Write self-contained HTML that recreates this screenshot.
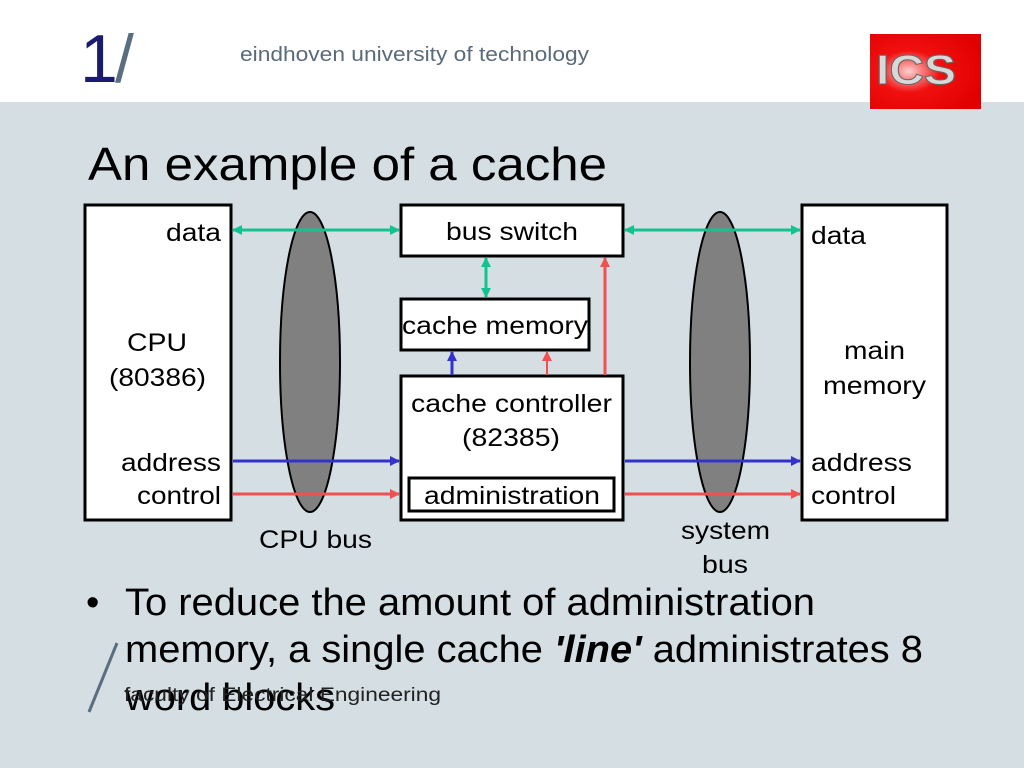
<!DOCTYPE html>
<html><head><meta charset="utf-8"><style>
body{margin:0;width:1024px;height:768px;overflow:hidden;background:#d4dee3;font-family:"Liberation Sans",sans-serif;}
</style></head><body>
<svg width="1024" height="768" xmlns="http://www.w3.org/2000/svg" style="position:absolute;left:0;top:0">
<defs>
<marker id="g" markerWidth="10" markerHeight="10" refX="9" refY="5" orient="auto-start-reverse" markerUnits="userSpaceOnUse"><path d="M0,0 L10,5 L0,10 Z" fill="#13c38f"/></marker>
<marker id="b" markerWidth="10" markerHeight="10" refX="9" refY="5" orient="auto-start-reverse" markerUnits="userSpaceOnUse"><path d="M0,0 L10,5 L0,10 Z" fill="#3333cc"/></marker>
<marker id="r" markerWidth="10" markerHeight="10" refX="9" refY="5" orient="auto-start-reverse" markerUnits="userSpaceOnUse"><path d="M0,0 L10,5 L0,10 Z" fill="#f25050"/></marker>
<radialGradient id="rg" cx="0.35" cy="0.5" r="0.7"><stop offset="0" stop-color="#ffd0d0"/><stop offset="0.4" stop-color="#f01010"/><stop offset="1" stop-color="#e00000"/></radialGradient>
</defs>
<rect x="0" y="0" width="1024" height="102" fill="#fff"/>
<text x="80" y="82" font-size="68" fill="#1a1a6e">1</text>
<text x="115" y="82" font-size="68" fill="#5a6e80">/</text>
<text x="240" y="61" font-size="20" fill="#5a6a7a" textLength="349" lengthAdjust="spacingAndGlyphs">eindhoven university of technology</text>
<rect x="870" y="34" width="111" height="75" fill="url(#rg)"/>
<text x="876" y="84" font-size="42" font-weight="bold" fill="#d8d8d8" stroke="#666" stroke-width="1" textLength="80" lengthAdjust="spacingAndGlyphs">ICS</text>
<text x="88" y="180" font-size="46" fill="#000" textLength="519" lengthAdjust="spacingAndGlyphs">An example of a cache</text>
<g stroke="#000" stroke-width="3" fill="#fff">
<rect x="85" y="205" width="146" height="315"/>
<rect x="802" y="205" width="145" height="315"/>
<rect x="401" y="205" width="222" height="51"/>
<rect x="401" y="299" width="188" height="51"/>
<rect x="401" y="376" width="222" height="144"/>
<rect x="409" y="478" width="205" height="33"/>
</g>
<ellipse cx="310" cy="362" rx="30" ry="150" fill="#808080" stroke="#000" stroke-width="2"/>
<ellipse cx="720" cy="362" rx="30" ry="150" fill="#808080" stroke="#000" stroke-width="2"/>
<g stroke-width="3">
<line x1="233" y1="230" x2="399" y2="230" stroke="#13c38f" marker-start="url(#g)" marker-end="url(#g)"/>
<line x1="625" y1="230" x2="800" y2="230" stroke="#13c38f" marker-start="url(#g)" marker-end="url(#g)"/>
<line x1="486" y1="258" x2="486" y2="297" stroke="#13c38f" marker-start="url(#g)" marker-end="url(#g)"/>
<line x1="233" y1="461" x2="399" y2="461" stroke="#3333cc" marker-end="url(#b)"/>
<line x1="625" y1="461" x2="800" y2="461" stroke="#3333cc" marker-end="url(#b)"/>
<line x1="233" y1="494" x2="399" y2="494" stroke="#f25050" marker-end="url(#r)"/>
<line x1="625" y1="494" x2="800" y2="494" stroke="#f25050" marker-end="url(#r)"/>
<line x1="452" y1="375" x2="452" y2="352" stroke="#3333cc" marker-end="url(#b)"/>
<line x1="547" y1="375" x2="547" y2="352" stroke="#f25050" marker-end="url(#r)" stroke-width="2"/>
<line x1="605" y1="375" x2="605" y2="258" stroke="#f25050" marker-end="url(#r)"/>
</g>
<g font-size="25" fill="#000" lengthAdjust="spacingAndGlyphs">
<text x="166" y="241" textLength="55" lengthAdjust="spacingAndGlyphs">data</text>
<text x="811" y="244" textLength="55" lengthAdjust="spacingAndGlyphs">data</text>
<text x="446" y="240" textLength="132" lengthAdjust="spacingAndGlyphs">bus switch</text>
<text x="402" y="334" textLength="186" lengthAdjust="spacingAndGlyphs">cache memory</text>
<text x="127" y="351" textLength="60" lengthAdjust="spacingAndGlyphs">CPU</text>
<text x="109" y="386" textLength="97" lengthAdjust="spacingAndGlyphs">(80386)</text>
<text x="844" y="359" textLength="61" lengthAdjust="spacingAndGlyphs">main</text>
<text x="823" y="394" textLength="103" lengthAdjust="spacingAndGlyphs">memory</text>
<text x="411" y="412" textLength="201" lengthAdjust="spacingAndGlyphs">cache controller</text>
<text x="462" y="446" textLength="98" lengthAdjust="spacingAndGlyphs">(82385)</text>
<text x="424" y="504" textLength="176" lengthAdjust="spacingAndGlyphs">administration</text>
<text x="121" y="471" textLength="100" lengthAdjust="spacingAndGlyphs">address</text>
<text x="137" y="504" textLength="84" lengthAdjust="spacingAndGlyphs">control</text>
<text x="811" y="471" textLength="101" lengthAdjust="spacingAndGlyphs">address</text>
<text x="811" y="504" textLength="85" lengthAdjust="spacingAndGlyphs">control</text>
<text x="259" y="548" textLength="113" lengthAdjust="spacingAndGlyphs">CPU bus</text>
<text x="681" y="539" textLength="89" lengthAdjust="spacingAndGlyphs">system</text>
<text x="702" y="573" textLength="46" lengthAdjust="spacingAndGlyphs">bus</text>
</g>
<g font-size="38" fill="#000">
<text x="86" y="615">•</text>
<text x="125" y="615" textLength="690" lengthAdjust="spacingAndGlyphs">To reduce the amount of administration</text>
<text x="125" y="662" textLength="798" lengthAdjust="spacingAndGlyphs">memory, a single cache <tspan font-weight="bold" font-style="italic">'line'</tspan> administrates 8</text>
<text x="125" y="710" textLength="210" lengthAdjust="spacingAndGlyphs">word blocks</text>
</g>
<line x1="117" y1="643" x2="89" y2="712" stroke="#5a6e80" stroke-width="3"/>
<text x="124" y="701" font-size="19" fill="#222" textLength="317" lengthAdjust="spacingAndGlyphs">faculty of Electrical Engineering</text>
</svg>
</body></html>
